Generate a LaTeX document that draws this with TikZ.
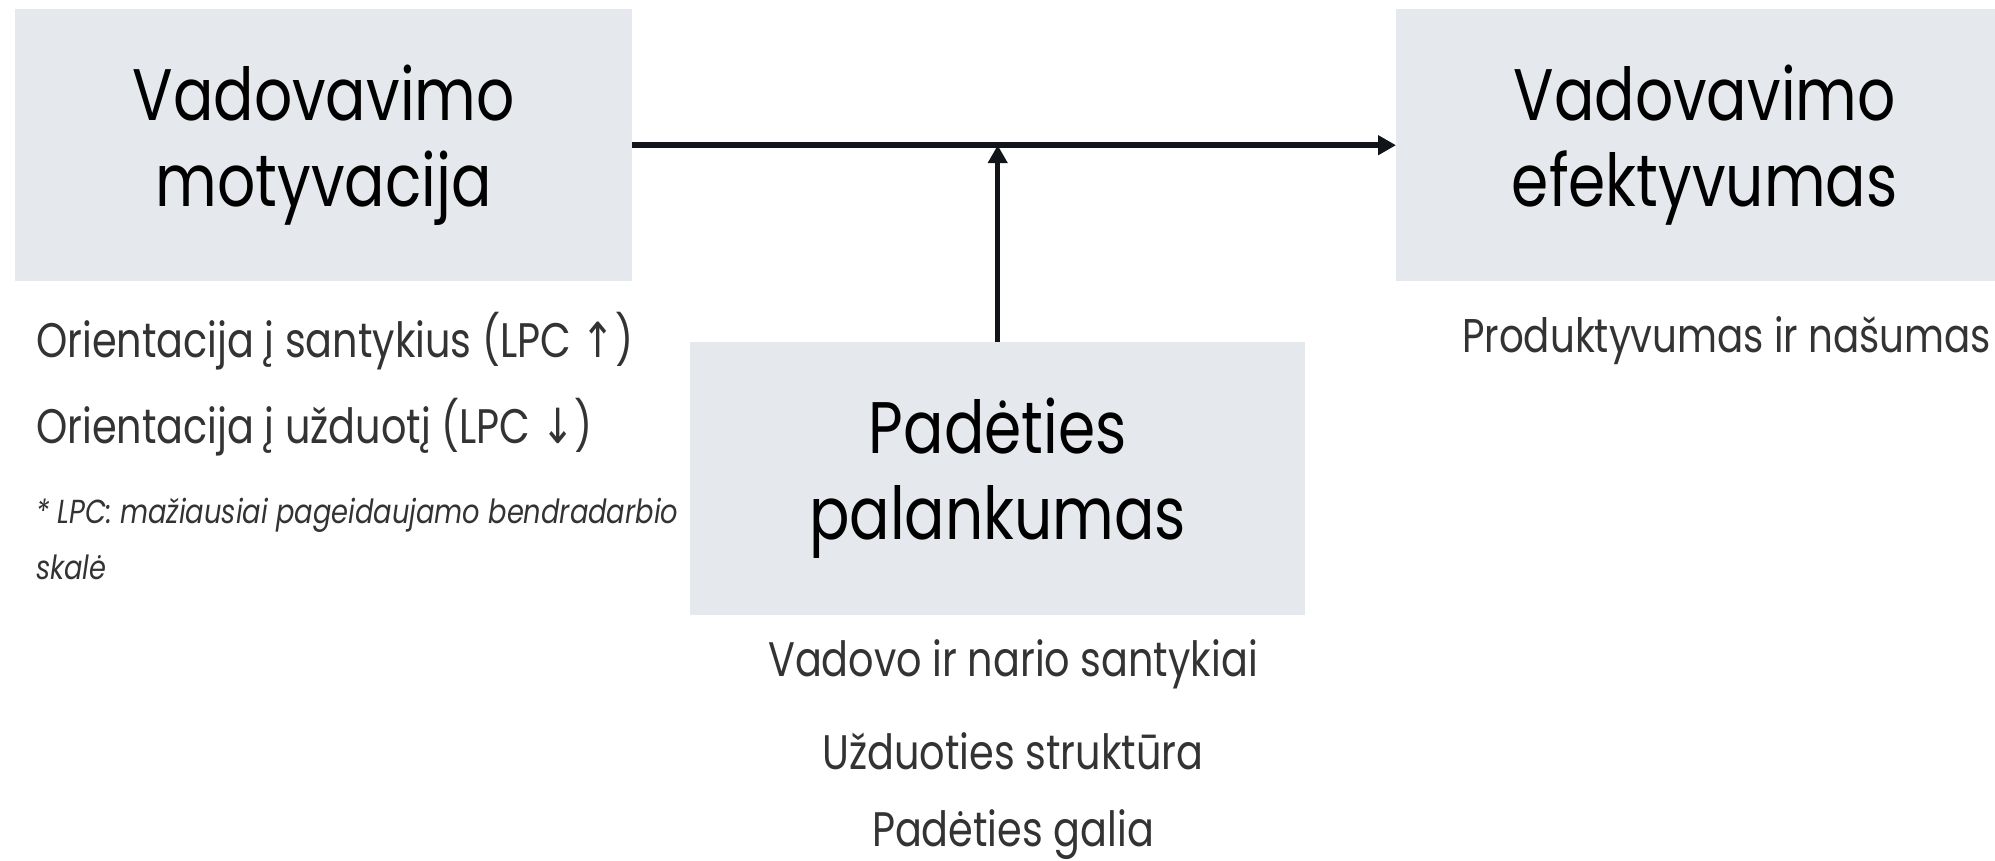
\documentclass[tikz,border=0pt]{standalone}
\usepackage{fontspec}
\setmainfont{Poppins}[FakeStretch=0.82]
\newfontfamily\symfont{DejaVu Sans}[FakeStretch=0.82]
\usetikzlibrary{arrows.meta}
\definecolor{boxfill}{HTML}{E5E8EC}
\definecolor{linecol}{HTML}{111418}
\definecolor{subtext}{HTML}{333333}
\begin{document}
\begin{tikzpicture}[x=1pt,y=-1pt,
  box/.style={fill=boxfill, inner sep=0pt, anchor=north west, align=center,
    text=black, font=\fontsize{73}{86}\selectfont},
  sub/.style={inner sep=0pt, text=subtext, font=\fontsize{48.5}{56}\selectfont},
  note/.style={inner sep=0pt, text=subtext, font=\fontsize{33.3}{40}\selectfont\itshape},
  conn/.style={draw=linecol, line width=5.5pt, -{Triangle[length=18pt,width=19pt]}}]
\useasboundingbox (0,0) rectangle (1995,860);
\node[box, minimum width=617pt, minimum height=272pt] (b1) at (15,9) {Vadovavimo\\motyvacija};
\node[box, minimum width=617pt, minimum height=272pt] (b3) at (1396,9) {Vadovavimo\\efektyvumas};
\node[box, minimum width=615pt, minimum height=273pt] (b2) at (690,342) {Padėties\\palankumas};
\coordinate (j) at (b2.north |- b1.east);
\draw[conn] (b1.east) -- (b3.west);
\draw[conn] (b2.north) -- (j);
\node[sub, anchor=west] (s1) at (36,341) {Orientacija į santykius (LPC {\symfont↑})};
\node[sub, anchor=west] (s2) at (36,427) {Orientacija į užduotį (LPC {\symfont↓})};
\node[note, anchor=west] (n1) at (36,515) {* LPC: mažiausiai pageidaujamo bendradarbio};
\node[note, anchor=west] (n2) at (36,567) {skalė};
\node[sub] (m1) at (1013,664) {Vadovo ir nario santykiai};
\node[sub] (m2) at (1013,751) {Užduoties struktūra};
\node[sub] (m3) at (1013,835) {Padėties galia};
\node[sub, anchor=west, font=\fontsize{47.3}{56}\selectfont] (p1) at (1462,341) {Produktyvumas ir našumas};
\end{tikzpicture}
\end{document}
